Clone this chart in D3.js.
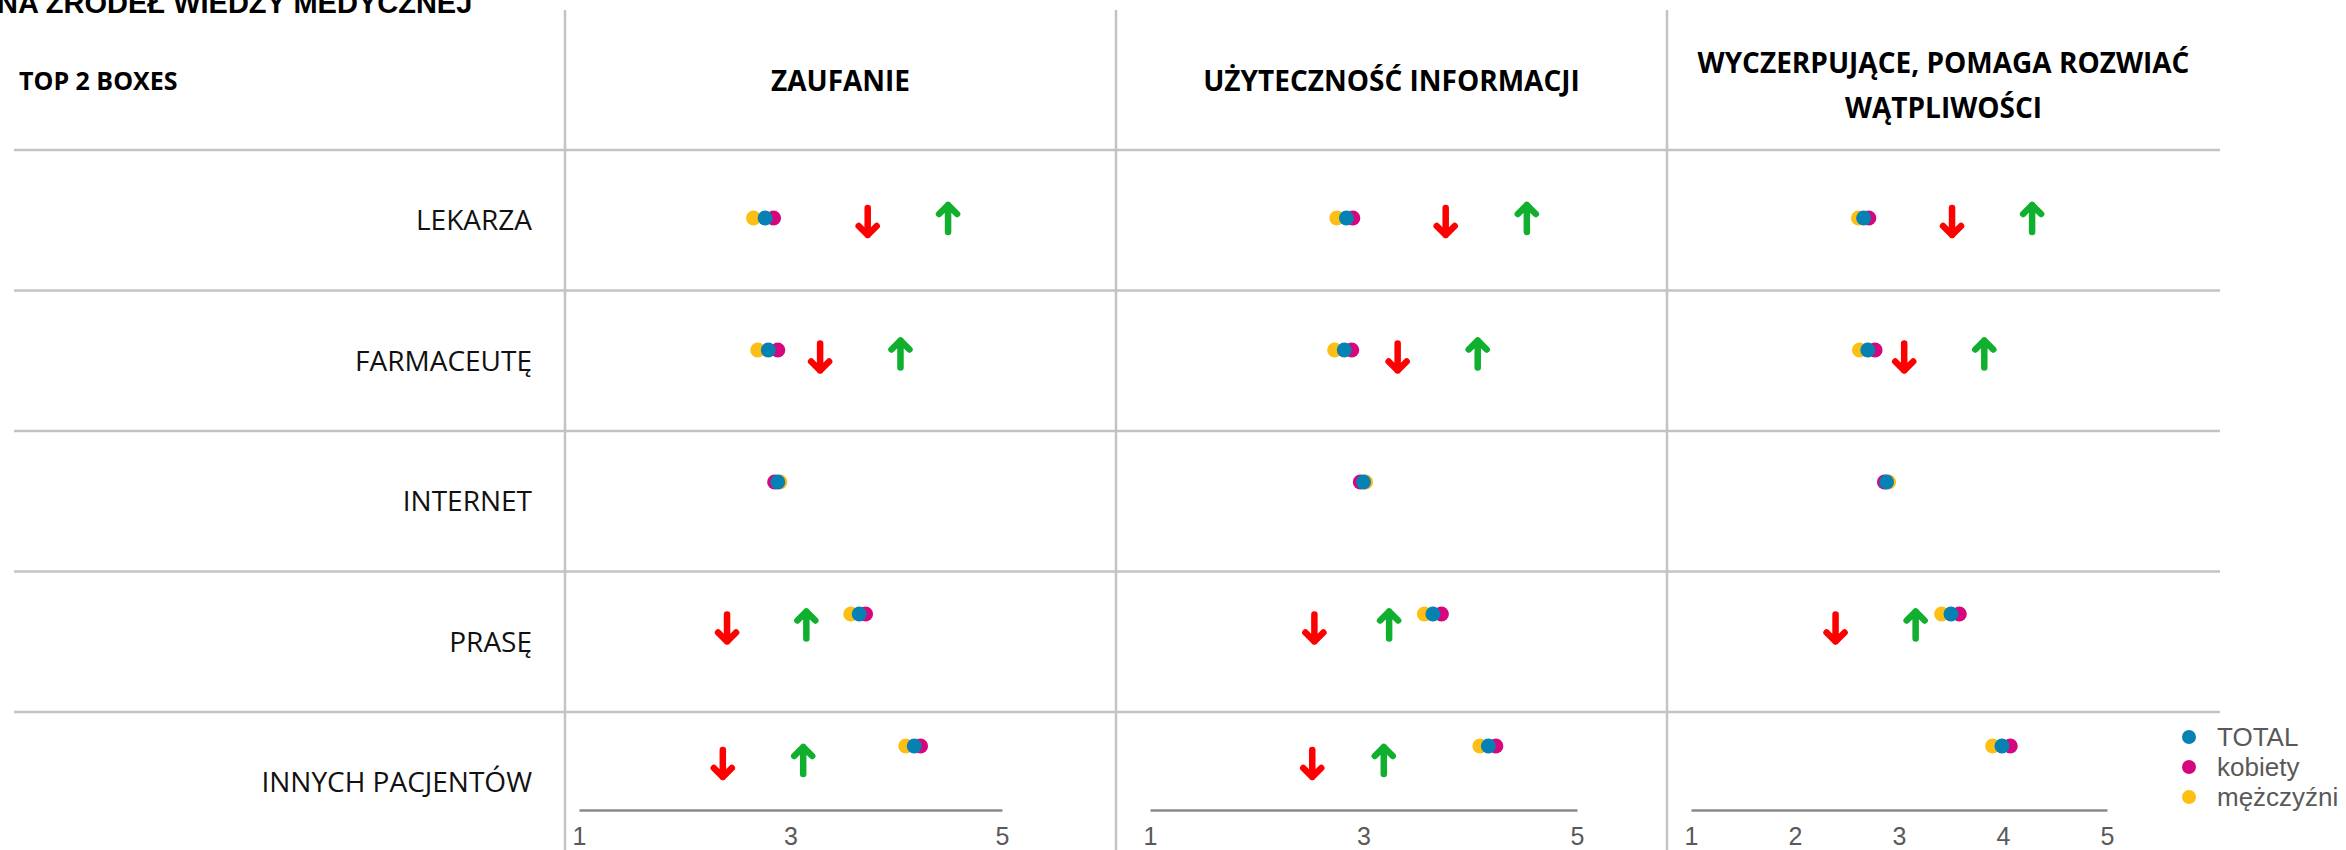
<!DOCTYPE html>
<html><head><meta charset="utf-8">
<script src="https://cdn.jsdelivr.net/npm/d3@7"></script>
<style>body{margin:0;background:#fff;} svg{display:block;background:#fff;}</style>
</head><body><svg id="chart" width="2346" height="850"></svg>
<script>
// ---------- DATA ----------
const titleText = "NA ŹRÓDEŁ WIEDZY MEDYCZNEJ";
const cornerLabel = "TOP 2 BOXES";
const categories = ["LEKARZA", "FARMACEUTĘ", "INTERNET", "PRASĘ", "INNYCH PACJENTÓW"];
const measures = ["ZAUFANIE", "UŻYTECZNOŚĆ INFORMACJI", "WYCZERPUJĄCE, POMAGA ROZWIAĆ|WĄTPLIWOŚCI"];
const seriesNames = ["TOTAL", "kobiety", "mężczyźni"];

// ZAUFANIE
const zaufanieTotal     = [2.76, 2.79, 2.88, 3.65, 4.17];
const zaufanieKobiety   = [2.84, 2.88, 2.85, 3.71, 4.23];
const zaufanieMezczyzni = [2.65, 2.69, 2.90, 3.57, 4.09];
const zaufanieDown      = [3.73, 3.28, null, 2.40, 2.36];
const zaufanieUp        = [4.49, 4.04, null, 3.15, 3.12];

// UŻYTECZNOŚĆ INFORMACJI
const uzytecznoscTotal     = [2.84, 2.82, 3.00, 3.65, 4.17];
const uzytecznoscKobiety   = [2.90, 2.89, 2.97, 3.73, 4.24];
const uzytecznoscMezczyzni = [2.75, 2.73, 3.02, 3.57, 4.09];
const uzytecznoscDown      = [3.77, 3.32, null, 2.54, 2.52];
const uzytecznoscUp        = [4.53, 4.07, null, 3.24, 3.19];

// WYCZERPUJĄCE, POMAGA ROZWIAĆ WĄTPLIWOŚCI
const wyczerpujaceTotal     = [2.66, 2.70, 2.88, 3.50, 3.99];
const wyczerpujaceKobiety   = [2.71, 2.77, 2.86, 3.58, 4.07];
const wyczerpujaceMezczyzni = [2.61, 2.62, 2.90, 3.41, 3.90];
const wyczerpujaceDown      = [3.51, 3.05, null, 2.39, null];
const wyczerpujaceUp        = [4.28, 3.82, null, 3.16, null];

const ticksPanel1 = [1, 3, 5];
const ticksPanel2 = [1, 3, 5];
const ticksPanel3 = [1, 2, 3, 4, 5];
const scaleDomain = [1, 5];

// ---------- BUILD ----------
const panels = [
  {total: zaufanieTotal, kob: zaufanieKobiety, mez: zaufanieMezczyzni, down: zaufanieDown, up: zaufanieUp, ticks: ticksPanel1},
  {total: uzytecznoscTotal, kob: uzytecznoscKobiety, mez: uzytecznoscMezczyzni, down: uzytecznoscDown, up: uzytecznoscUp, ticks: ticksPanel2},
  {total: wyczerpujaceTotal, kob: wyczerpujaceKobiety, mez: wyczerpujaceMezczyzni, down: wyczerpujaceDown, up: wyczerpujaceUp, ticks: ticksPanel3}
];

const colors = {TOTAL: "#0681b4", kobiety: "#d6077c", "mężczyźni": "#fdbf15"};
const gridColor = "#c3c3c3";
const headFont = "'Open Sans', 'DejaVu Sans', sans-serif";
const tickFont = "'Liberation Sans', Arial, sans-serif";

const svg = d3.select("#chart");

const colLines = [565, 1116, 1667];
const colEdges = [565, 1116, 1667, 2220];
const axisRanges = [[579, 1002], [1150, 1577], [1691, 2107]];

const rowBand = d3.scaleBand().domain(categories).range([150, 852.5]);
const dotY = d3.scalePoint().domain(categories).range([218, 746]);
const arrowY = d3.scalePoint().domain(categories).range([220, 762]);

// title (partially cut at top)
svg.append("text").attr("x", -3).attr("y", 13)
  .attr("font-family", tickFont).attr("font-weight", "bold").attr("font-size", 29)
  .attr("fill", "#000").text(titleText);

// horizontal grid lines
svg.append("g").selectAll("line").data(categories).join("line")
  .attr("x1", 14).attr("x2", 2220)
  .attr("y1", d => rowBand(d)).attr("y2", d => rowBand(d))
  .attr("stroke", gridColor).attr("stroke-width", 2.5);

// vertical separators
svg.append("g").selectAll("line").data(colLines).join("line")
  .attr("x1", d => d).attr("x2", d => d).attr("y1", 10).attr("y2", 850)
  .attr("stroke", gridColor).attr("stroke-width", 2.5);

// corner label
svg.append("text").attr("x", 19).attr("y", 81).attr("dy", "0.35em")
  .attr("font-family", headFont).attr("font-weight", "bold").attr("font-size", 25)
  .attr("fill", "#000").text(cornerLabel);

// row labels
svg.append("g").selectAll("text").data(categories).join("text")
  .attr("x", 532).attr("y", d => rowBand(d) + rowBand.bandwidth() / 2).attr("dy", "0.35em")
  .attr("text-anchor", "end").attr("font-family", headFont).attr("font-size", 28)
  .attr("fill", "#111").text(d => d);

// column headers
measures.forEach((m, i) => {
  const cx = (colEdges[i] + colEdges[i + 1]) / 2;
  const lines = m.split("|");
  const t = svg.append("text").attr("x", cx).attr("text-anchor", "middle")
    .attr("font-family", headFont).attr("font-weight", "bold").attr("font-size", 28).attr("fill", "#000");
  if (lines.length === 1) {
    t.attr("y", 81).attr("dy", "0.35em").text(lines[0]);
  } else {
    lines.forEach((l, j) => {
      t.append("tspan").attr("x", cx).attr("y", 63 + j * 45).attr("dy", "0.35em").text(l);
    });
  }
});

const upPath = "M0,14V-13M-9,-4L0,-13L9,-4";
const downPath = "M0,-14V13M-9,4L0,13L9,4";

panels.forEach((p, i) => {
  const x = d3.scaleLinear().domain(scaleDomain).range(axisRanges[i]);
  const g = svg.append("g");

  // axis
  const ax = g.append("g").attr("transform", "translate(0,810)")
    .call(d3.axisBottom(x).tickValues(p.ticks).tickFormat(d3.format("d")).tickSize(0).tickSizeOuter(0).tickPadding(17));
  ax.select(".domain").attr("stroke", "#8a8a8a").attr("stroke-width", 2.5);
  ax.selectAll("text").attr("font-family", tickFont).attr("font-size", 25).attr("fill", "#595959");

  // arrows
  const downData = categories.map((c, k) => ({c, v: p.down[k]})).filter(d => d.v != null);
  const upData = categories.map((c, k) => ({c, v: p.up[k]})).filter(d => d.v != null);
  g.selectAll("path.down").data(downData).join("path").attr("class", "down")
    .attr("transform", d => `translate(${x(d.v)},${arrowY(d.c) + 2})`)
    .attr("d", downPath).attr("fill", "none").attr("stroke", "#fe0000")
    .attr("stroke-width", 6.5).attr("stroke-linecap", "round").attr("stroke-linejoin", "round");
  g.selectAll("path.up").data(upData).join("path").attr("class", "up")
    .attr("transform", d => `translate(${x(d.v)},${arrowY(d.c) - 2})`)
    .attr("d", upPath).attr("fill", "none").attr("stroke", "#10b02e")
    .attr("stroke-width", 6.5).attr("stroke-linecap", "round").attr("stroke-linejoin", "round");

  // dots: men, women, total (total on top)
  const series = [["mężczyźni", p.mez], ["kobiety", p.kob], ["TOTAL", p.total]];
  series.forEach(([name, vals]) => {
    g.append("g").selectAll("circle").data(categories.map((c, k) => ({c, v: vals[k]}))).join("circle")
      .attr("cx", d => x(d.v)).attr("cy", d => dotY(d.c)).attr("r", 7.5)
      .attr("fill", colors[name]);
  });
});

// legend
const lg = svg.append("g");
lg.selectAll("circle").data(seriesNames).join("circle")
  .attr("cx", 2189).attr("cy", (d, i) => 737 + i * 30).attr("r", 7)
  .attr("fill", d => colors[d]);
lg.selectAll("text").data(seriesNames).join("text")
  .attr("x", 2217).attr("y", (d, i) => 737 + i * 30).attr("dy", "0.35em")
  .attr("font-family", tickFont).attr("font-size", 26).attr("fill", "#595959")
  .text(d => d);
</script>
</body></html>
